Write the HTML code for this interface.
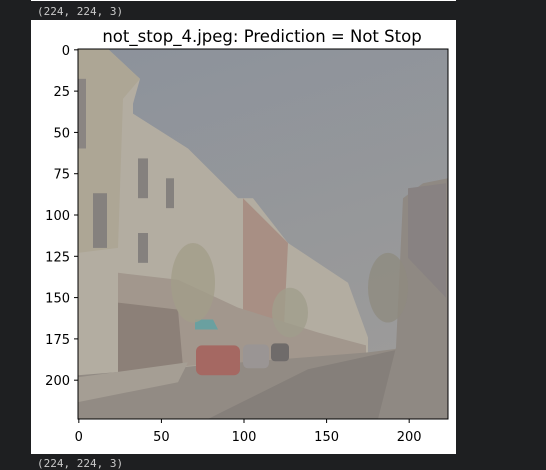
<!DOCTYPE html>
<html><head><meta charset="utf-8">
<style>
html,body{margin:0;padding:0;background:#1e1f21;width:546px;height:465px;overflow:hidden;font-family:"DejaVu Sans","Liberation Sans",sans-serif}
.mono{position:absolute;font-family:"DejaVu Sans Mono","Liberation Mono",monospace;font-size:11px;color:#c9c9c9}
</style></head><body>
<div style="position:absolute;left:31px;top:0;width:425px;height:1px;background:#fff"></div>
<div class="mono" style="left:37px;top:5px">(224, 224, 3)</div>
<div style="position:absolute;left:31px;top:20px;width:425px;height:434px;background:#fff"></div>
<div class="mono" style="left:37px;top:457px">(224, 224, 3)</div>
<svg id="chart" width="546" height="465" style="position:absolute;left:0;top:0">
  <text x="262" y="42" text-anchor="middle" font-size="16.5" fill="#000" font-family="DejaVu Sans, Liberation Sans, sans-serif">not_stop_4.jpeg: Prediction = Not Stop</text>
  <svg x="78" y="49" width="370" height="370" viewBox="0 0 370 372" preserveAspectRatio="none">
    <defs><linearGradient id="sky" x1="0" y1="0" x2="0.3" y2="1"><stop offset="0" stop-color="#8c929b"/><stop offset="1" stop-color="#9c9b9a"/></linearGradient></defs>
    <rect width="370" height="372" fill="url(#sky)"/>
    <polygon points="0,0 30,0 62,30 55,55 55,65 110,100 160,150 175,150 210,195 240,215 270,235 290,290 290,305 0,340" fill="#b3ada1"/>
    <polygon points="0,0 30,0 62,30 45,50 40,200 0,205" fill="#ada695"/>
    <polygon points="165,150 210,195 205,300 165,300" fill="#a88f84"/>
    <polygon points="40,225 100,232 160,260 240,285 288,298 288,310 40,322" fill="#a2978d"/>
    <polygon points="40,255 100,262 105,320 40,325" fill="#8c8078"/>
    <polygon points="0,328 290,305 330,300 315,372 0,372" fill="#928b84"/>
    <polygon points="0,330 110,315 100,335 0,355" fill="#a59e94"/>
    <polygon points="230,322 330,300 320,372 130,372" fill="#857f7a"/>
    <polygon points="325,150 345,135 370,130 370,372 300,372 318,300" fill="#8f8983"/>
    <polygon points="330,140 368,135 368,250 330,210" fill="#888282"/>
    <rect x="118" y="298" width="44" height="30" rx="6" fill="#a56862"/>
    <rect x="165" y="297" width="26" height="24" rx="5" fill="#9a9594"/>
    <rect x="193" y="296" width="18" height="18" rx="4" fill="#6f6b6a"/>
    <polygon points="117,272 135,272 140,282 117,282" fill="#6aa0a0"/>
    <ellipse cx="115" cy="235" rx="22" ry="40" fill="#a39d8a" opacity="0.8"/>
    <ellipse cx="310" cy="240" rx="20" ry="35" fill="#8e8b80" opacity="0.8"/>
    <ellipse cx="212" cy="265" rx="18" ry="25" fill="#a09d8c" opacity="0.8"/>
    <rect x="15" y="145" width="14" height="55" fill="#85817e"/>
    <rect x="60" y="110" width="10" height="40" fill="#85817e"/>
    <rect x="88" y="130" width="8" height="30" fill="#85817e"/>
    <rect x="60" y="185" width="10" height="30" fill="#85817e"/>
    <rect x="0" y="30" width="8" height="70" fill="#8a8582"/>
  </svg>
  <rect x="78" y="49" width="370" height="370" fill="none" stroke="#000" stroke-width="1"/>
  <g id="ticks"></g>
</svg>
<script>
const xTicks=[0,50,100,150,200];
const yTicks=[0,25,50,75,100,125,150,175,200];
const imgSize=224;
const x0=78,y0=49,w=370,h=370;
const sx=v=>x0+(v+0.5)/imgSize*w;
const sy=v=>y0+(v+0.5)/imgSize*h;
const g=document.getElementById('ticks');
const NS='http://www.w3.org/2000/svg';
xTicks.forEach(t=>{
  const l=document.createElementNS(NS,'line');
  
  
  l.setAttribute('x1',sx(t));l.setAttribute('x2',sx(t));l.setAttribute('y1',419);l.setAttribute('y2',423);l.setAttribute('stroke','#000');
  g.appendChild(l);
  const tx=document.createElementNS(NS,'text');
  
  
  tx.setAttribute('x',sx(t));tx.setAttribute('y',441);tx.setAttribute('text-anchor','middle');tx.setAttribute('font-size','13');
  tx.textContent=t;g.appendChild(tx);
});
yTicks.forEach(t=>{
  const l=document.createElementNS(NS,'line');
  
  
  l.setAttribute('x1',74);l.setAttribute('x2',78);l.setAttribute('y1',sy(t));l.setAttribute('y2',sy(t));l.setAttribute('stroke','#000');
  g.appendChild(l);
  const tx=document.createElementNS(NS,'text');
  
  
  tx.setAttribute('x',70);tx.setAttribute('y',sy(t)+5);tx.setAttribute('text-anchor','end');tx.setAttribute('font-size','13');
  tx.textContent=t;g.appendChild(tx);
});
</script>
</body></html>
